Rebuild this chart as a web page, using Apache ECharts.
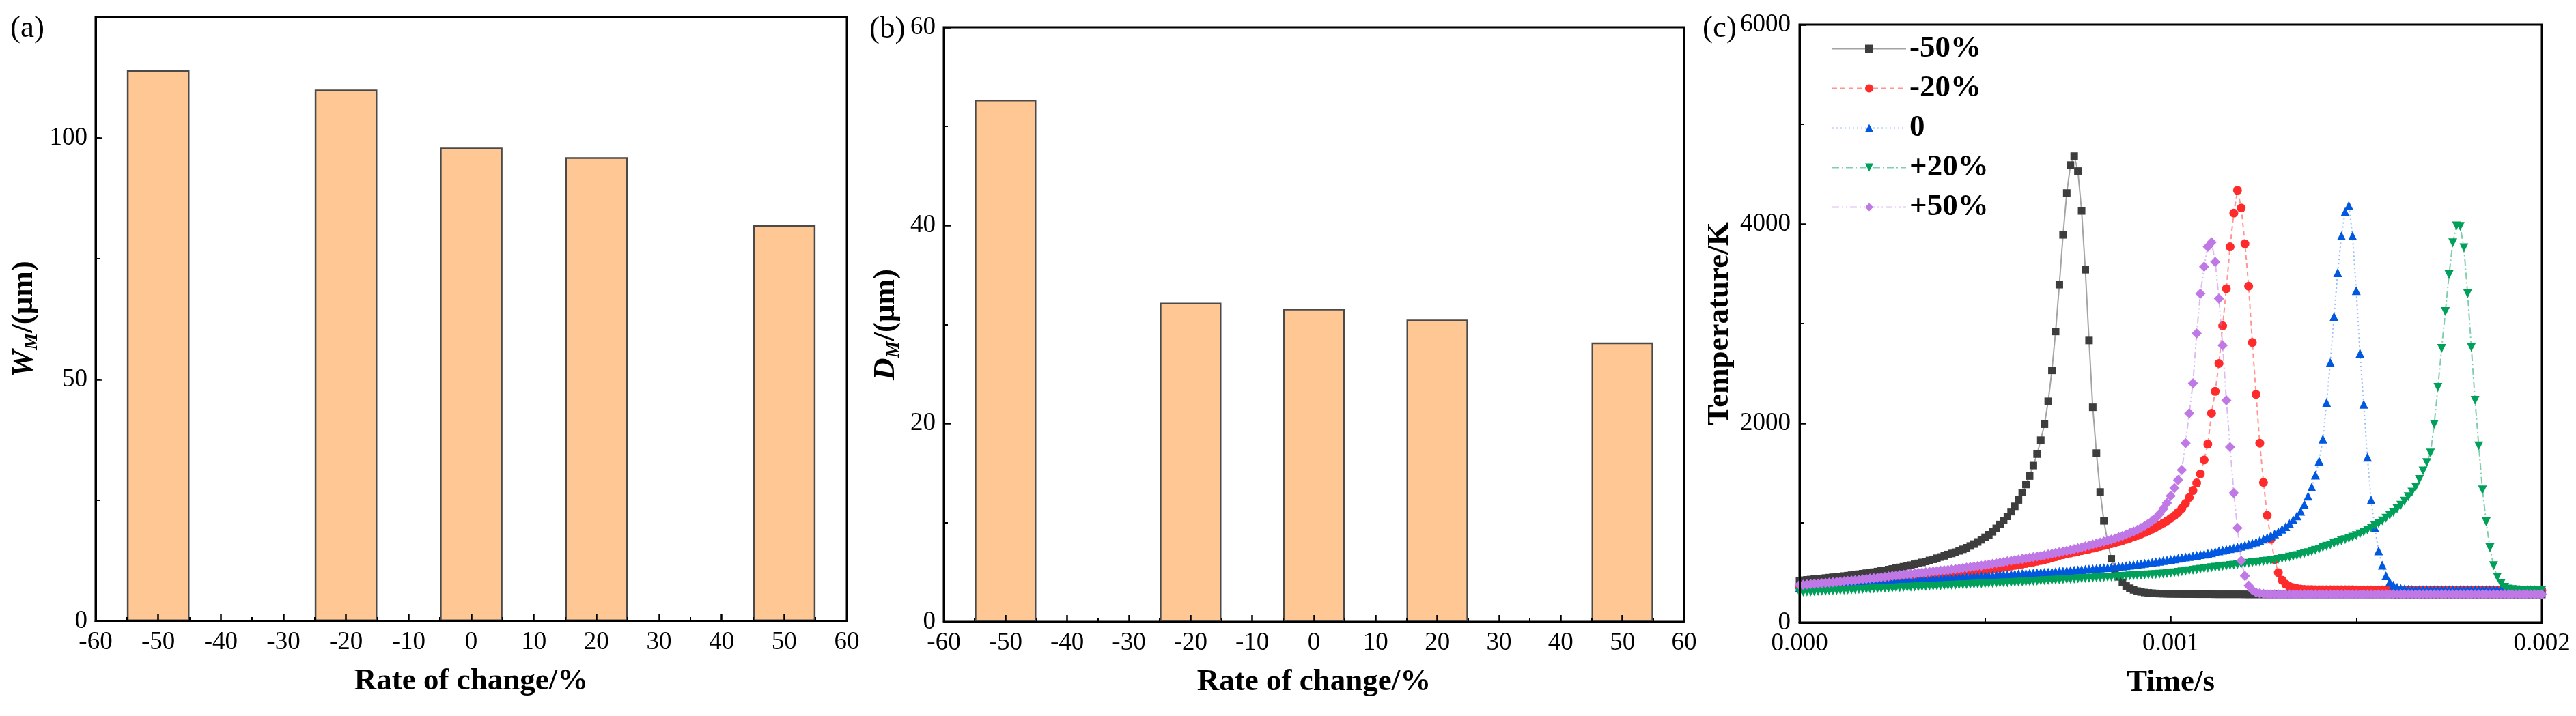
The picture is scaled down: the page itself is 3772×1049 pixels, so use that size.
<!DOCTYPE html>
<html><head><meta charset="utf-8">
<script src="https://cdn.jsdelivr.net/npm/echarts@6/dist/echarts.min.js"></script>
<style>html,body{margin:0;padding:0;background:#fff}#c{width:3772px;height:1049px}</style>
</head><body><div id="c"></div>
<script>
// ---------- data ----------
const rateOfChange = [-50, -20, 0, 20, 50];
const widthWM = [114, 110, 98, 96, 82];
const depthDM = [52.7, 32.2, 31.6, 30.5, 28.2];

const seriesNames = ['-50%', '-20%', '0', '+20%', '+50%'];
const timeStart = 0;
const timeStep = 0.00001;

const tempNeg50 = [421,424,428,431,435,438,442,446,450,454,
458,462,466,470,475,480,485,490,495,500,
505,511,517,524,531,538,545,553,560,568,
576,585,594,603,613,623,634,645,657,669,
682,693,705,719,734,750,768,787,808,830,
855,880,910,945,984,1024,1065,1112,1166,1230,
1305,1385,1470,1575,1690,1830,1990,2220,2530,2920,
3390,3890,4310,4590,4680,4530,4130,3540,2830,2160,
1700,1310,1020,810,640,535,458,403,366,344,
327,315,307,301,297,294,292,290,289,288,
287,287,286,286,285,285,285,284,284,284,
284,284,283,283,283,283,283,283,283,283,
282,282,282,282,282,282,282,282,282,282,
282,282,282,282,282,282,282,282,282,282,
282,282,282,282,282,282,282,282,282,282,
282,282,282,282,282,282,282,282,282,282,
281,281,281,281,281,281,281,281,281,281,
281,281,281,281,281,281,281,281,281,281,
281,281,281,281,281,281,281,281,281,281,
281,281,281,281,281,281,281,281,281,281,
281];

const tempNeg20 = [360,363,366,369,372,375,378,381,384,387,
390,393,396,399,402,405,408,411,414,417,
420,423,427,430,434,437,441,445,448,452,
455,458,461,465,468,471,475,478,481,485,
488,491,495,499,503,507,511,515,519,523,
527,531,536,542,547,553,559,566,573,580,
586,592,599,606,614,622,630,639,648,660,
673,681,689,697,705,713,721,729,737,746,
755,764,773,782,791,800,811,822,834,846,
859,873,887,902,919,937,956,976,998,1020,
1045,1072,1105,1145,1195,1255,1325,1400,1490,1630,
1790,2100,2320,2600,2977,3350,3770,4108,4337,4160,
3800,3375,2810,2290,1800,1406,1075,835,630,500,
425,385,362,350,341,336,333,331,330,329,
328,328,328,328,328,328,328,328,328,328,
327,327,327,327,327,327,327,327,327,327,
326,326,326,326,326,326,326,326,326,326,
325,325,325,325,325,325,325,325,325,325,
324,324,324,324,324,324,324,324,324,324,
323,323,323,323,323,323,323,323,323,323,
323];

const tempZero = [350,352,355,357,360,362,364,367,369,372,
374,376,379,381,384,386,388,391,393,396,
398,400,403,405,408,410,412,415,417,420,
422,424,426,429,431,433,436,438,441,443,
445,448,450,452,455,457,459,462,464,467,
469,471,474,476,479,481,483,485,487,489,
491,493,495,497,499,501,503,505,507,510,
513,516,519,522,525,528,531,534,537,540,
543,546,549,552,555,559,563,567,571,575,
579,584,589,594,599,604,609,615,621,627,
633,639,645,651,657,663,669,675,681,687,
694,701,710,719,726,733,741,749,757,766,
776,786,797,809,822,837,853,870,889,911,
936,963,994,1030,1070,1117,1185,1269,1360,1480,
1620,1841,2208,2610,3070,3510,3880,4122,4185,3880,
3330,2700,2190,1660,1230,950,720,575,470,405,
375,355,343,337,334,332,331,330,330,330,
330,330,330,330,330,330,330,330,330,330,
330,330,330,330,330,330,330,330,330,330,
330,330,330,330,330,330,330,330,330,330,
330];

const tempPos20 = [302,304,306,307,309,311,313,314,316,318,
320,322,323,325,327,329,331,332,334,336,
338,339,341,343,345,346,348,350,352,353,
355,357,358,360,362,363,365,367,368,370,
372,373,375,377,378,380,382,383,385,387,
388,390,392,393,395,397,398,400,402,404,
406,408,410,412,414,417,419,421,423,425,
427,429,431,433,435,438,440,442,444,446,
448,450,452,454,456,458,460,462,464,467,
469,471,473,476,478,480,482,485,487,490,
494,499,504,509,514,519,524,529,534,539,
544,549,554,559,563,567,572,576,581,585,
590,594,599,603,608,613,617,622,627,633,
640,647,655,663,672,681,691,701,712,724,
737,751,765,778,791,805,819,831,843,856,
872,889,907,927,948,970,994,1019,1046,1075,
1106,1140,1177,1218,1262,1309,1360,1435,1521,1605,
1700,1990,2360,2750,3120,3490,3810,3980,3975,3760,
3300,2760,2230,1772,1330,1010,750,570,455,390,
352,336,330,327,326,325,325,325,325,325,
325];

const tempPos50 = [376,379,382,385,388,391,394,397,400,404,
407,411,414,418,421,425,429,433,437,441,
445,449,453,458,462,467,471,476,480,484,
488,492,496,500,504,508,512,516,520,524,
528,532,536,541,546,551,556,561,566,571,
577,583,589,595,601,607,614,620,626,632,
638,644,650,656,662,668,675,683,690,698,
705,712,720,728,736,745,754,763,772,782,
792,802,812,822,832,843,856,869,884,899,
912,929,948,970,994,1020,1050,1090,1140,1200,
1270,1350,1430,1530,1800,2100,2400,2900,3300,3570,
3770,3815,3618,3250,2780,2230,1760,1300,948,620,
467,370,325,302,292,288,285,284,283,283,
283,283,283,283,283,283,283,283,283,283,
283,283,283,283,283,283,283,283,283,283,
283,283,283,283,283,283,283,283,283,283,
283,283,283,283,283,283,283,283,283,283,
282,282,282,282,282,282,282,282,282,282,
282,282,282,282,282,282,282,282,282,282,
282,282,282,282,282,282,282,282,282,282,
282];

// ---------- build ----------
const SERIF = '"Liberation Serif", "Times New Roman", serif';
const times = tempNeg50.map((_, i) => timeStart + i * timeStep);
const temps = [tempNeg50, tempNeg20, tempZero, tempPos20, tempPos50];

const G = [
  {left: 140, top: 25, width: 1100, height: 885},
  {left: 1382, top: 40, width: 1084, height: 871},
  {left: 2635, top: 36, width: 1087, height: 876}
];

const plain = v => String(v);
const tickLine = {color: '#000', width: 2.5};
function baseAxis(extra) {
  return Object.assign({
    axisLine: {show: true, onZero: false, lineStyle: {color: '#000', width: 3}},
    axisTick: {show: true, inside: true, length: 10, lineStyle: tickLine},
    minorTick: {show: true, splitNumber: 2, length: 6, lineStyle: {color: '#000', width: 2}},
    axisLabel: {color: '#000', fontFamily: SERIF, fontSize: 37, margin: 13, formatter: plain},
    splitLine: {show: false},
    minorSplitLine: {show: false},
    nameLocation: 'middle',
    nameMoveOverlap: false,
    nameTextStyle: {fontFamily: SERIF, fontWeight: 'bold', fontSize: 45, color: '#000',
                    align: 'center', verticalAlign: 'middle'},
    z: 10
  }, extra);
}
const richName = {
  bi: {fontFamily: SERIF, fontWeight: 'bold', fontStyle: 'italic', fontSize: 45, color: '#000'},
  sub: {fontFamily: SERIF, fontStyle: 'italic', fontWeight: 'bold', fontSize: 28, color: '#000', padding: [24, 0, 0, 0]},
  b: {fontFamily: SERIF, fontWeight: 'bold', fontSize: 45, color: '#000'}
};

const xAxes = [
  baseAxis({gridIndex: 0, type: 'value', min: -60, max: 60, interval: 10, name: 'Rate of change/%', nameGap: 88}),
  baseAxis({gridIndex: 1, type: 'value', min: -60, max: 60, interval: 10, name: 'Rate of change/%', nameGap: 88}),
  baseAxis({gridIndex: 2, type: 'value', min: 0, max: 0.002, interval: 0.001, name: 'Time/s', nameGap: 88,
            axisLabel: {color: '#000', fontFamily: SERIF, fontSize: 37, margin: 13, formatter: v => v.toFixed(3)}})
];

const yAxes = [
  baseAxis({gridIndex: 0, type: 'value', min: 0, max: 125, interval: 50, minorTick: {show: false},
            axisLabel: {color: '#000', fontFamily: SERIF, fontSize: 37, margin: 12, showMaxLabel: false, formatter: plain},
            name: '{bi|W}{sub|M}{b|/(μm)}', nameGap: 105,
            nameTextStyle: {align: 'center', verticalAlign: 'middle', rich: richName}}),
  {gridIndex: 0, type: 'value', min: 0, max: 125, interval: 25, position: 'left', offset: 0, z: 10,
   axisLine: {show: false, onZero: false}, axisLabel: {show: false}, splitLine: {show: false},
   axisTick: {show: true, inside: true, length: 6, lineStyle: {color: '#000', width: 2}}},
  baseAxis({gridIndex: 1, type: 'value', min: 0, max: 60, interval: 20,
            axisLabel: {color: '#000', fontFamily: SERIF, fontSize: 37, margin: 12, formatter: plain},
            name: '{bi|D}{sub|M}{b|/(μm)}', nameGap: 85,
            nameTextStyle: {align: 'center', verticalAlign: 'middle', rich: richName}}),
  baseAxis({gridIndex: 2, type: 'value', min: 0, max: 6000, interval: 2000,
            name: 'Temperature/K', nameGap: 117})
];

const barStyle = {color: '#FFC794', borderColor: '#4a4a4a', borderWidth: 2.5};
const series = [
  {type: 'bar', xAxisIndex: 0, yAxisIndex: 0, barWidth: G[0].width / 12,
   data: rateOfChange.map((x, i) => [x, widthWM[i]]), itemStyle: barStyle, z: 2},
  {type: 'bar', xAxisIndex: 1, yAxisIndex: 2, barWidth: G[1].width / 12,
   data: rateOfChange.map((x, i) => [x, depthDM[i]]), itemStyle: barStyle, z: 2}
];

const styles = [
  {symbol: 'rect', size: 11, rot: 0, color: '#3d3d3d', line: 'rgba(90,90,90,0.55)', type: 'solid'},
  {symbol: 'circle', size: 13, rot: 0, color: '#ff2a2a', line: 'rgba(255,60,60,0.55)', type: [7, 5]},
  {symbol: 'triangle', size: 13, rot: 0, color: '#0058e0', line: 'rgba(30,110,240,0.45)', type: [2, 4]},
  {symbol: 'triangle', size: 13, rot: 180, color: '#00a05a', line: 'rgba(0,160,90,0.5)', type: [10, 4, 2, 4]},
  {symbol: 'diamond', size: 15, rot: 0, color: '#bf78e6', line: 'rgba(190,120,230,0.5)', type: [10, 4, 2, 4, 2, 4]}
];
temps.forEach((arr, k) => {
  const s = styles[k];
  series.push({
    type: 'line', name: seriesNames[k], xAxisIndex: 2, yAxisIndex: 3,
    data: arr.map((T, i) => [times[i], T]),
    symbol: s.symbol, symbolSize: s.size, symbolRotate: s.rot, showSymbol: true, showAllSymbol: true,
    itemStyle: {color: s.color},
    lineStyle: {color: s.line, width: 2, type: s.type},
    z: 3 + k
  });
});

const chart = echarts.init(document.getElementById('c'), null, {renderer: 'canvas'});
chart.setOption({
  backgroundColor: '#ffffff',
  animation: false,
  grid: G.map(g => Object.assign({show: true, borderColor: '#000', borderWidth: 3,
                                  backgroundColor: 'transparent', containLabel: false,
                                  outerBoundsMode: 'none'}, g)),
  xAxis: xAxes,
  yAxis: yAxes,
  legend: {
    orient: 'vertical', left: 2677, top: 44, itemWidth: 108, itemHeight: 15, itemGap: 13,
    data: seriesNames, selectedMode: false,
    textStyle: {fontFamily: SERIF, fontWeight: 'bold', fontSize: 45, color: '#000', lineHeight: 44}
  },
  graphic: [
    {type: 'text', left: 15, top: 20, style: {text: '(a)', font: '45px ' + SERIF, fill: '#000'}},
    {type: 'text', left: 1273, top: 21, style: {text: '(b)', font: '45px ' + SERIF, fill: '#000'}},
    {type: 'text', left: 2493, top: 20, style: {text: '(c)', font: '45px ' + SERIF, fill: '#000'}}
  ],
  series: series
});
</script></body></html>
